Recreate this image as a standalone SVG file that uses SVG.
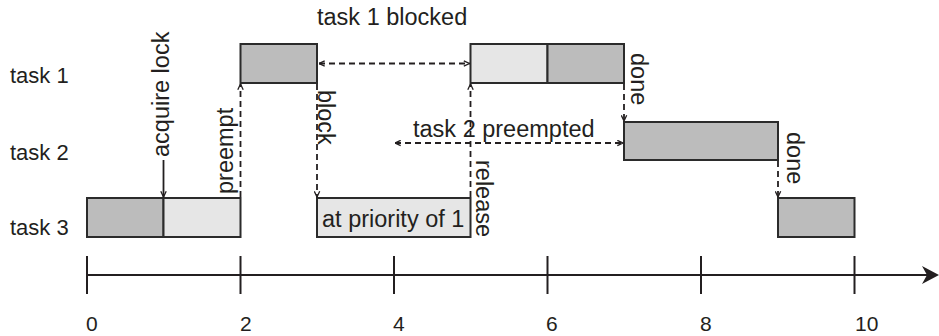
<svg xmlns="http://www.w3.org/2000/svg" width="939" height="336" viewBox="0 0 939 336">
  <defs>
    <style>
      .lbl { font-family: "Liberation Sans", Arial, sans-serif; font-size: 23.5px; fill: #231f20; }
      .task { font-family: "Liberation Sans", Arial, sans-serif; font-size: 22px; fill: #231f20; }
      .num { font-family: "Liberation Sans", Arial, sans-serif; font-size: 21px; fill: #231f20; }
      .dark { fill: #bcbcbc; stroke: #2b2b2b; stroke-width: 2; }
      .light { fill: #e6e6e6; stroke: #2b2b2b; stroke-width: 2; }
      .dash { stroke: #231f20; stroke-width: 1.8; stroke-dasharray: 6 4; fill: none; marker-end: url(#ah); }
      .dash2 { stroke: #231f20; stroke-width: 1.8; stroke-dasharray: 6 4; fill: none; marker-end: url(#ah); marker-start: url(#ah); }
      .solid { stroke: #231f20; stroke-width: 1.8; fill: none; marker-end: url(#ah); }
      .axis { stroke: #231f20; stroke-width: 2; fill: none; }
    </style>
    <marker id="ah" viewBox="0 0 7 7" refX="6.5" refY="3.5" markerWidth="7" markerHeight="7" markerUnits="userSpaceOnUse" orient="auto-start-reverse">
      <path d="M0.8,0.8 L6.5,3.5 L0.8,6.2" fill="none" stroke="#231f20" stroke-width="1.3"/>
    </marker>
  </defs>

  <g id="row-labels">
    <text class="task" x="10" y="83">task 1</text>
    <text class="task" x="10" y="160">task 2</text>
    <text class="task" x="10" y="235">task 3</text>
  </g>

  <g id="task3-run1">
    <rect class="dark" x="87" y="198" width="76.5" height="39"/>
    <rect class="light" x="163.5" y="198" width="77" height="39"/>
  </g>
  <g id="task1-run1">
    <rect class="dark" x="240.5" y="44" width="76.5" height="39"/>
  </g>
  <g id="task3-inherit">
    <rect class="light" x="317" y="198" width="153.5" height="39"/>
    <text class="lbl" x="322" y="227">at priority of 1</text>
  </g>
  <g id="task1-run2">
    <rect class="light" x="470.5" y="44" width="77" height="39"/>
    <rect class="dark" x="547.5" y="44" width="76.5" height="39"/>
  </g>
  <g id="task2-run">
    <rect class="dark" x="624" y="122" width="154" height="38"/>
  </g>
  <g id="task3-run2">
    <rect class="dark" x="778" y="198" width="76.5" height="39"/>
  </g>

  <g id="connectors">
    <line class="solid" x1="163.5" y1="160" x2="163.5" y2="197"/>
    <line class="dash" x1="240.5" y1="197" x2="240.5" y2="84"/>
    <line class="dash" x1="317" y1="84" x2="317" y2="197"/>
    <line class="dash2" x1="319" y1="63.5" x2="469.5" y2="63.5"/>
    <line class="dash" x1="470.5" y1="197" x2="470.5" y2="84"/>
    <line class="dash" x1="624" y1="84" x2="624" y2="121"/>
    <line class="dash2" x1="395" y1="143" x2="623" y2="143"/>
    <line class="dash" x1="778" y1="161" x2="778" y2="197"/>
  </g>

  <g id="annotations">
    <text class="lbl" x="317" y="25">task 1 blocked</text>
    <text class="lbl" x="413" y="137">task 2 preempted</text>
    <text class="lbl" transform="translate(169,157) rotate(-90)">acquire lock</text>
    <text class="lbl" transform="translate(233,194) rotate(-90)">preempt</text>
    <text class="lbl" transform="translate(318,90) rotate(90)">block</text>
    <text class="lbl" transform="translate(476,160) rotate(90)">release</text>
    <text class="lbl" transform="translate(631,53) rotate(90)">done</text>
    <text class="lbl" transform="translate(787,132) rotate(90)">done</text>
  </g>

  <g id="time-axis">
    <line class="axis" x1="87" y1="275" x2="928" y2="275"/>
    <path d="M939,275 L922,266 L927,275 L922,284 Z" fill="#231f20"/>
    <line class="axis" x1="87" y1="256" x2="87" y2="294"/>
    <line class="axis" x1="240.5" y1="256" x2="240.5" y2="294"/>
    <line class="axis" x1="394" y1="256" x2="394" y2="294"/>
    <line class="axis" x1="547.5" y1="256" x2="547.5" y2="294"/>
    <line class="axis" x1="701" y1="256" x2="701" y2="294"/>
    <line class="axis" x1="854.5" y1="256" x2="854.5" y2="294"/>
    <text class="num" x="86" y="331">0</text>
    <text class="num" x="240" y="331">2</text>
    <text class="num" x="393" y="331">4</text>
    <text class="num" x="546" y="331">6</text>
    <text class="num" x="700" y="331">8</text>
    <text class="num" x="855" y="331">10</text>
  </g>
</svg>
